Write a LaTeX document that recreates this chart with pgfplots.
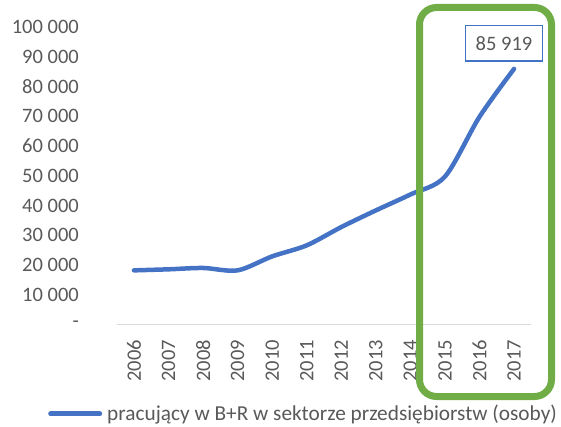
\documentclass[border=0pt]{standalone}
\usepackage{pgfplots}
\pgfplotsset{compat=1.18}
\usepackage{fontspec}
\setmainfont{Carlito}
\definecolor{lineblue}{HTML}{4472C4}
\definecolor{boxgreen}{HTML}{70AD47}
\definecolor{txt}{HTML}{595959}
\definecolor{axgray}{HTML}{D9D9D9}
\begin{document}
\fontsize{20.5bp}{24bp}\selectfont
\begin{tikzpicture}
\useasboundingbox (-116.7bp,-102.5bp) rectangle (444.3bp,324.5bp);
\begin{axis}[
  at={(0,0)}, anchor=south west,
  scale only axis, width=414.6bp, height=297.5bp,
  xmin=-0.5, xmax=11.5, ymin=0, ymax=100000,
  enlargelimits=false, clip=false,
  scaled y ticks=false,
  axis x line*=bottom, axis y line*=left,
  y axis line style={draw=none},
  x axis line style={axgray, line width=1.5bp},
  major tick length=0pt,
  tick style={draw=none},
  xtick={0,1,2,3,4,5,6,7,8,9,10,11},
  xticklabels={2006,2007,2008,2009,2010,2011,2012,2013,2014,2015,2016,2017},
  xticklabel style={rotate=90, anchor=east, inner sep=0pt, text=txt},
  xticklabel shift=15.5bp,
  ytick={0,10000,20000,30000,40000,50000,60000,70000,80000,90000,100000},
  yticklabels={{-\hspace{10bp}},10~000,20~000,30~000,40~000,50~000,60~000,70~000,80~000,90~000,100~000},
  yticklabel style={anchor=east, inner sep=0pt, text=txt},
  yticklabel shift=37.7bp,
  legend style={draw=none, fill=none, at={(-0.1657,-0.3008)}, anchor=west, inner sep=0pt, text=txt,
    font=\fontsize{21.3bp}{24bp}\selectfont,
    nodes={inner sep=1bp},
    /tikz/every odd column/.append style={column sep=4bp}},
  legend image code/.code={\draw[#1, line width=5bp] (2.5bp,0bp) -- (51.5bp,0bp);},
]
\addplot[lineblue, line width=4.5bp, smooth, tension=0.5, line cap=round, line join=round]
  coordinates {(0,18200)(1,18550)(2,19000)(3,18200)(4,22900)(5,26600)(6,32750)(7,38350)(8,43700)(9,49700)(10,69800)(11,85919)};
\addlegendentry{pracujący w B+R w sektorze przedsiębiorstw (osoby)}
\node[draw=lineblue, line width=1.3bp, fill=white, text=txt, minimum width=76.6bp, minimum height=35.3bp, inner sep=0pt] at (axis cs:10.71,94520) {85~919};
\end{axis}
\draw[boxgreen, line width=7bp, rounded corners=17bp] (302.8bp,-72bp) rectangle (434.8bp,317bp);
\end{tikzpicture}
\end{document}
